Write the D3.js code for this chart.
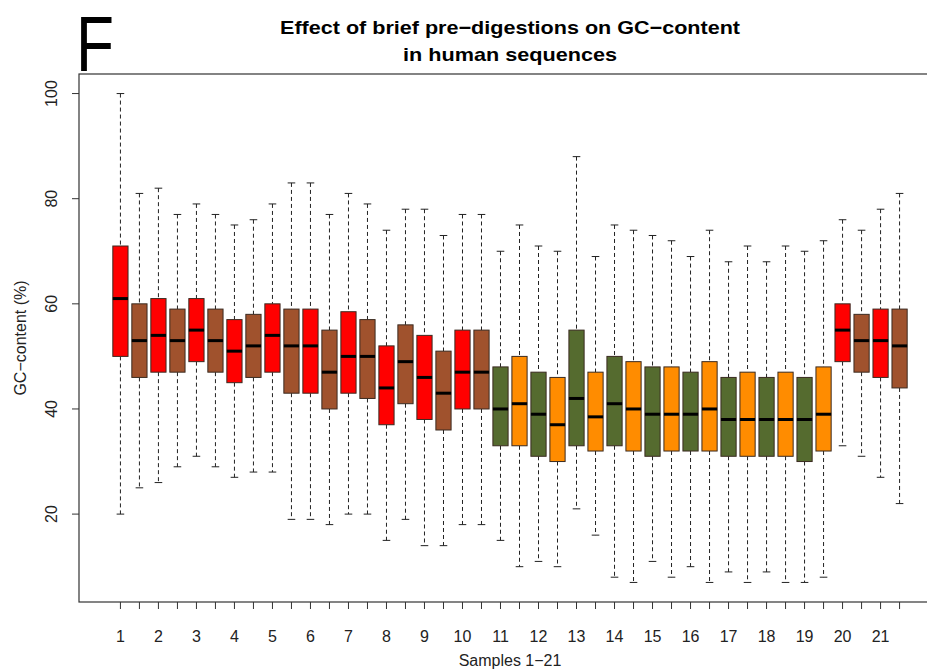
<!DOCTYPE html>
<html>
<head>
<meta charset="utf-8">
<script src="https://cdn.jsdelivr.net/npm/d3@7"></script>
<style>
  html, body { margin: 0; padding: 0; background: #fff; }
  svg { display: block; font-family: "Liberation Sans", Arial, Helvetica, sans-serif; }
</style>
</head>
<body>
<svg id="chart" width="927" height="671"></svg>
<script>
// Sample labels (one per pair of boxes)
const sampleLabels = d3.range(1, 22).map(String);

// Box colours, in drawing order (42 boxes, two per sample)
const boxColors = [
  "#FF0000","#A0522D","#FF0000","#A0522D","#FF0000","#A0522D","#FF0000","#A0522D",
  "#FF0000","#A0522D","#FF0000","#A0522D","#FF0000","#A0522D","#FF0000","#A0522D",
  "#FF0000","#A0522D","#FF0000","#A0522D",
  "#556B2F","#FF8C00","#556B2F","#FF8C00","#556B2F","#FF8C00","#556B2F","#FF8C00",
  "#556B2F","#FF8C00","#556B2F","#FF8C00","#556B2F","#FF8C00","#556B2F","#FF8C00",
  "#556B2F","#FF8C00",
  "#FF0000","#A0522D","#FF0000","#A0522D"
];

// Five-number summaries of GC-content (%) per box
const whiskerHigh = [100,81,82,77,79,77,75,76,79,83,83,77,81,79,74,78,78,73,77,77,
                     70,75,71,70,88,69,75,74,73,72,69,74,68,71,68,71,70,72,76,74,78,81];
const upperQuartile = [71,60,61,59,61,59,57,58,60,59,59,55,58.5,57,52,56,54,51,55,55,
                       48,50,47,46,55,47,50,49,48,48,47,49,46,47,46,47,46,48,60,58,59,59];
const medians = [61,53,54,53,55,53,51,52,54,52,52,47,50,50,44,49,46,43,47,47,
                 40,41,39,37,42,38.5,41,40,39,39,39,40,38,38,38,38,38,39,55,53,53,52];
const lowerQuartile = [50,46,47,47,49,47,45,46,47,43,43,40,43,42,37,41,38,36,40,40,
                       33,33,31,30,33,32,33,32,31,32,32,32,31,31,31,31,30,32,49,47,46,44];
const whiskerLow = [20,25,26,29,31,29,27,28,28,19,19,18,20,20,15,19,14,14,18,18,
                    15,10,11,10,21,16,8,7,11,8,10,7,9,7,9,7,7,8,33,31,27,22];

// Y axis ticks
const yTicks = [20, 40, 60, 80, 100];

const boxes = medians.map((m, i) => ({
  pos: i + 1,
  color: boxColors[i],
  hi: whiskerHigh[i],
  q3: upperQuartile[i],
  med: m,
  q1: lowerQuartile[i],
  lo: whiskerLow[i]
}));

const svg = d3.select("#chart");

const plot = { left: 79, right: 941, top: 74, bottom: 602 };

// Box positions 1..42 with R-style 4% padding around 0.5..42.5
const n = boxes.length;
const xPad = n * 0.04;
const x = d3.scaleLinear()
  .domain([0.5 - xPad, n + 0.5 + xPad])
  .range([plot.left, plot.right]);

// Value range padded by 4%
const yMin = d3.min(whiskerLow), yMax = d3.max(whiskerHigh);
const yPad = (yMax - yMin) * 0.04;
const y = d3.scaleLinear()
  .domain([yMin - yPad, yMax + yPad])
  .range([plot.bottom, plot.top]);

const unit = x(2) - x(1);
const boxW = unit * 0.8;
const stapleW = unit * 0.4;

const g = svg.append("g");

// Whiskers (dashed) and staples
const bx = g.selectAll("g.box").data(boxes).join("g").attr("class", "box");

bx.append("line")
  .attr("x1", d => x(d.pos)).attr("x2", d => x(d.pos))
  .attr("y1", d => y(d.hi)).attr("y2", d => y(d.q3))
  .attr("stroke", "#222").attr("stroke-width", 1).attr("stroke-dasharray", "4,3");
bx.append("line")
  .attr("x1", d => x(d.pos)).attr("x2", d => x(d.pos))
  .attr("y1", d => y(d.q1)).attr("y2", d => y(d.lo))
  .attr("stroke", "#222").attr("stroke-width", 1).attr("stroke-dasharray", "4,3");
bx.append("line")
  .attr("x1", d => x(d.pos) - stapleW / 2).attr("x2", d => x(d.pos) + stapleW / 2)
  .attr("y1", d => y(d.hi)).attr("y2", d => y(d.hi))
  .attr("stroke", "#222").attr("stroke-width", 1);
bx.append("line")
  .attr("x1", d => x(d.pos) - stapleW / 2).attr("x2", d => x(d.pos) + stapleW / 2)
  .attr("y1", d => y(d.lo)).attr("y2", d => y(d.lo))
  .attr("stroke", "#222").attr("stroke-width", 1);

// Boxes
bx.append("rect")
  .attr("x", d => x(d.pos) - boxW / 2)
  .attr("width", boxW)
  .attr("y", d => y(d.q3))
  .attr("height", d => y(d.q1) - y(d.q3))
  .attr("fill", d => d.color)
  .attr("stroke", "#3a2a20").attr("stroke-width", 1);

// Medians
bx.append("line")
  .attr("x1", d => x(d.pos) - boxW / 2).attr("x2", d => x(d.pos) + boxW / 2)
  .attr("y1", d => y(d.med)).attr("y2", d => y(d.med))
  .attr("stroke", "#000").attr("stroke-width", 3);

// Plot frame
svg.append("rect")
  .attr("x", plot.left).attr("y", plot.top)
  .attr("width", plot.right - plot.left).attr("height", plot.bottom - plot.top)
  .attr("fill", "none").attr("stroke", "#333").attr("stroke-width", 1.2);

// Y axis
const yAxis = svg.append("g");
yAxis.selectAll("line").data(yTicks).join("line")
  .attr("x1", plot.left - 7).attr("x2", plot.left)
  .attr("y1", d => y(d)).attr("y2", d => y(d))
  .attr("stroke", "#333");
yAxis.selectAll("text").data(yTicks).join("text")
  .attr("transform", d => `translate(57,${y(d)}) rotate(-90)`)
  .attr("text-anchor", "middle")
  .attr("font-size", 16)
  .attr("fill", "#222")
  .text(d => d);

// X axis
const xTickPos = d3.range(1, n + 1);
const xAxis = svg.append("g");
xAxis.selectAll("line").data(xTickPos).join("line")
  .attr("x1", d => x(d)).attr("x2", d => x(d))
  .attr("y1", plot.bottom).attr("y2", plot.bottom + 7)
  .attr("stroke", "#333");
xAxis.selectAll("text").data(sampleLabels).join("text")
  .attr("x", (d, i) => x(2 * i + 1))
  .attr("y", 642)
  .attr("text-anchor", "middle")
  .attr("font-size", 16)
  .attr("fill", "#222")
  .text(d => d);

// Axis titles
svg.append("text")
  .attr("x", (plot.left + plot.right) / 2).attr("y", 666)
  .attr("text-anchor", "middle").attr("font-size", 16).attr("fill", "#222")
  .text("Samples 1\u221221");
svg.append("text")
  .attr("transform", `translate(26,${(plot.top + plot.bottom) / 2}) rotate(-90)`)
  .attr("text-anchor", "middle").attr("font-size", 16).attr("fill", "#222")
  .text("GC\u2212content (%)");

// Title
const cx = (plot.left + plot.right) / 2;
svg.append("text")
  .attr("x", cx).attr("y", 34)
  .attr("text-anchor", "middle").attr("font-size", 19).attr("font-weight", "bold")
  .attr("textLength", 460).attr("lengthAdjust", "spacingAndGlyphs")
  .text("Effect of brief pre\u2212digestions on GC\u2212content");
svg.append("text")
  .attr("x", cx).attr("y", 61)
  .attr("text-anchor", "middle").attr("font-size", 19).attr("font-weight", "bold")
  .attr("textLength", 214).attr("lengthAdjust", "spacingAndGlyphs")
  .text("in human sequences");

// Panel letter
svg.append("text")
  .attr("x", 76).attr("y", 71)
  .attr("font-size", 77)
  .attr("textLength", 38).attr("lengthAdjust", "spacingAndGlyphs")
  .text("F");
</script>
</body>
</html>
